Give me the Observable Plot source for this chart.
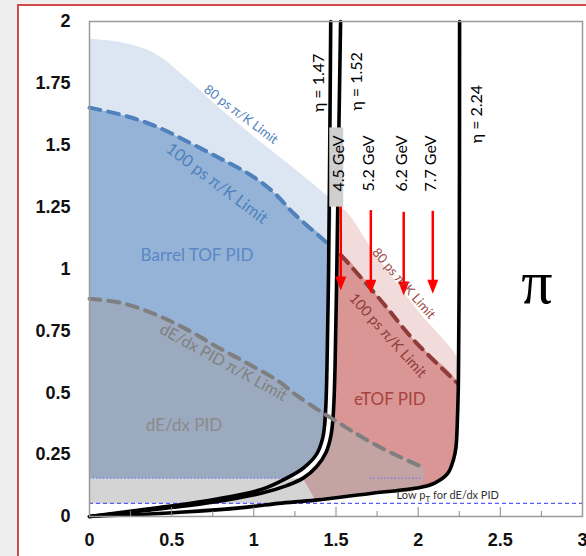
<!DOCTYPE html>
<html><head><meta charset="utf-8">
<script src="https://cdn.jsdelivr.net/npm/d3@7"></script>
<script src="https://cdn.jsdelivr.net/npm/@observablehq/plot@0.6"></script>
<style>
body{margin:0;background:#eeeeee;width:586px;height:556px;overflow:hidden;position:relative;}
#panel{position:absolute;left:17px;top:4px;width:700px;height:700px;background:#fff;border-left:2px solid #d24b4b;border-top:2px solid #d24b4b;}
#chart{position:absolute;left:0;top:0;}
</style></head><body>
<div id="panel"></div><div id="chart"></div>
<script>
// ---- axis ticks ----
const xTicks = [0, 0.5, 1, 1.5, 2, 2.5, 3];
const yTicks = [0, 0.25, 0.5, 0.75, 1, 1.25, 1.5, 1.75, 2];
const xMajorTicks = [0.5, 1, 1.5, 2, 2.5];
const xMinorTicks = [0.25, 0.75, 1.25, 1.75, 2.25, 2.75];

// ---- acceptance boundaries (x, y) ----
const etaValues = [1.47, 1.52, 2.24];
const etaNames = ["η = 1.47", "η = 1.52", "η = 2.24"];
const eta147 = [[0,0],[0.35,0.03],[0.75,0.068],[1.05,0.11],[1.2,0.155],[1.3,0.195],[1.38,0.25],[1.42,0.32],[1.436,0.42],[1.445,0.6],[1.455,1.0],[1.462,1.5],[1.468,2.0]];
const eta152 = [[0,0],[0.35,0.025],[0.75,0.058],[1.05,0.095],[1.2,0.125],[1.3,0.155],[1.38,0.2],[1.44,0.26],[1.47,0.33],[1.484,0.42],[1.494,0.6],[1.505,1.0],[1.516,1.5],[1.528,2.0]];
const eta224 = [[0,0],[0.55,0.017],[0.96,0.038],[1.15,0.053],[1.375,0.066],[1.71,0.093],[2.01,0.117],[2.1,0.135],[2.18,0.174],[2.215,0.23],[2.23,0.28],[2.24,0.417],[2.245,0.55],[2.25,1.0],[2.252,2.0]];

// ---- PID limits ----
const tof80Barrel = [[0,1.93],[0.2,1.915],[0.4,1.87],[0.6,1.765],[0.8,1.645],[1.0,1.535],[1.2,1.43],[1.42,1.31],[1.465,1.28]];
const tof100Barrel = [[0,1.652],[0.21,1.62],[0.41,1.575],[0.61,1.51],[0.8,1.445],[0.98,1.38],[1.12,1.31],[1.25,1.22],[1.447,1.105]];
const dEdxLimit = [[0,0.88],[0.2,0.862],[0.41,0.814],[0.6,0.753],[0.78,0.684],[0.96,0.619],[1.14,0.551],[1.27,0.485],[1.44,0.41],[1.49,0.39],[1.59,0.348],[1.77,0.279],[2.03,0.198]];
const tof80Endcap = [[1.529,1.245],[1.75,1.05],[2.0,0.83],[2.245,0.63]];
const tof100Endcap = [[1.529,1.057],[1.772,0.874],[1.973,0.713],[2.24,0.538]];
const lowPtCut = [0.053, 0.155];

// ---- momentum arrows ----
const momentaGeV = [4.5, 5.2, 6.2, 7.7];
const arrowX = [1.529, 1.712, 1.912, 2.089];
const arrowTop = [1.25, 1.236, 1.229, 1.233];
const arrowTip = [0.913, 0.9, 0.893, 0.9];

// ---- region names ----
const regionNames = ["Barrel TOF PID", "dE/dx PID", "eTOF PID"];
const limitNames = ["80 ps π/K Limit", "100 ps π/K Limit", "dE/dx PID π/K Limit"];

// ---- build polygons from the boundaries ----
const [yLow, yBand] = lowPtCut;
const between = (c, lo, hi) => c.filter(([, y]) => y >= lo && y < hi);
const X = d => d[0], Y = d => d[1];
const last = a => a[a.length - 1];

const polyLightBlue = [...tof80Barrel, ...between(eta147, yBand, last(tof80Barrel)[1]).reverse(), [0, yBand]];
const polyBlue = [...tof100Barrel, ...between(eta147, yBand, last(tof100Barrel)[1]).reverse(), [0, yBand]];
const dEdxLeft = dEdxLimit.filter(([x]) => x <= 1.44);
const polyDEdx = [...dEdxLeft, ...between(eta147, yBand, last(dEdxLeft)[1]).reverse(), [0, yBand]];
const polyBand = [[0, yLow], [0, yBand], ...eta152.filter(([, y]) => y === yBand), ...eta224.filter(([x]) => x >= 1.15 && x <= 1.375).reverse()];
const right224 = (yMax) => eta224.filter(([x, y]) => x >= 1.375 && y < yMax).reverse();
const polyPink = [...between(eta152, yBand, tof80Endcap[0][1]), ...tof80Endcap, ...right224(last(tof80Endcap)[1])];
const polyRed = [...between(eta152, yBand, tof100Endcap[0][1]), ...tof100Endcap, ...right224(last(tof100Endcap)[1])];
const dEdxRight = dEdxLimit.filter(([x]) => x >= 1.49);
const polyMauve = [...between(eta152, yBand, dEdxRight[0][1]), ...dEdxRight, ...eta224.filter(([x]) => x >= 1.375 && x <= last(dEdxRight)[0]).reverse()];

const fillPoly = (data, fill, c = "catmull-rom") => Plot.line(data, {x: X, y: Y, fill, stroke: "none", curve: c});
const curve = (data, o) => Plot.line(data, {x: X, y: Y, curve: "catmull-rom", ...o});

const triDown = {draw(ctx) { ctx.moveTo(0, 0); ctx.lineTo(-5.5, -14); ctx.lineTo(5.5, -14); ctx.closePath(); }};
const lab = "Lato, 'Open Sans', sans-serif";

const chart = Plot.plot({
  width: 586, height: 556,
  marginLeft: 89, marginRight: 4, marginTop: 21, marginBottom: 40,
  x: {domain: [0, 3]},
  y: {domain: [0, 2]},
  style: {background: "transparent", overflow: "visible", fontFamily: lab},
  marks: [
    fillPoly(polyLightBlue, "#dce6f2"),
    fillPoly(polyBlue, "#95b3d7"),
    fillPoly(polyDEdx, "#9baabe"),
    fillPoly(polyBand, "#d4d4d4", "linear"),
    fillPoly(polyPink, "#f2dcdb"),
    fillPoly(polyRed, "#da9694"),
    fillPoly(polyMauve, "#c4a3a3"),
    curve(tof100Barrel, {stroke: "#4f81bd", strokeWidth: 4, strokeDasharray: "11,8"}),
    curve(tof100Endcap, {stroke: "#8e3b3a", strokeWidth: 4, strokeDasharray: "11,8"}),
    Plot.ruleY([yBand], {x1: 0, x2: 1.2, stroke: "#6a6aff", strokeWidth: 1, strokeDasharray: "1.5,2"}),
    Plot.ruleY([yBand], {x1: 1.71, x2: 2.03, stroke: "#6a6aff", strokeWidth: 1, strokeDasharray: "1.5,2"}),
    Plot.ruleY([yLow], {stroke: "#5a5aff", strokeWidth: 1.2, strokeDasharray: "4,3"}),
    curve(eta224, {stroke: "#000", strokeWidth: 3.6}),
    curve(eta147, {stroke: "#000", strokeWidth: 3.6}),
    curve(eta152, {stroke: "#000", strokeWidth: 3.6}),
    curve(dEdxLimit, {stroke: "#7f7f7f", strokeWidth: 4, strokeDasharray: "11,8"}),
    // gray box behind first momentum label
    Plot.rect([arrowX[0]], {x1: d => d - 0.067, x2: d => d + 0.018, y1: 1.25, y2: 1.57, fill: "#cfcfcf"}),
    // eta labels
    Plot.text(etaNames, {x: (d, i) => etaValues[i] + [-0.075, 0.11, 0.12][i], y: (d, i) => [1.752, 1.758, 1.626][i], text: d => d, rotate: -90, fontSize: 16, fill: "#000"}),
    // momentum labels
    Plot.text(momentaGeV, {x: (d, i) => arrowX[i] - 0.012, y: 1.426, text: d => `${d} GeV`, rotate: -90, fontSize: 16, fill: "#000"}),
    // arrows
    Plot.ruleX(arrowX, {x: d => d, y1: (d, i) => arrowTop[i], y2: (d, i) => arrowTip[i] + 0.03, stroke: "#ff0000", strokeWidth: 2.5}),
    Plot.dot(arrowX, {x: d => d, y: (d, i) => arrowTip[i], symbol: triDown, fill: "#ff0000", stroke: "none", r: 5}),
    // region labels
    Plot.text([limitNames[0]], {x: 0.921, y: 1.624, rotate: 37, fontSize: 13, fill: "#4f81bd"}),
    Plot.text([limitNames[1]], {x: 0.775, y: 1.345, rotate: 37, fontSize: 16.5, fill: "#4f81bd"}),
    Plot.text([regionNames[0]], {x: 0.654, y: 1.055, fontSize: 17, fill: "#5a87c5"}),
    Plot.text([limitNames[2]], {x: 0.815, y: 0.622, rotate: 29, fontSize: 16, fill: "#808080"}),
    Plot.text([regionNames[1]], {x: 0.575, y: 0.368, fontSize: 17, fill: "#8a8a8a"}),
    Plot.text([regionNames[2]], {x: 1.828, y: 0.473, fontSize: 17, fill: "#a8423f"}),
    Plot.text([limitNames[0]], {x: 1.912, y: 0.941, rotate: 49, fontSize: 13, fill: "#a04a48"}),
    Plot.text([limitNames[1]], {x: 1.815, y: 0.731, rotate: 48, fontSize: 14.5, fill: "#8e3b3a"}),
    Plot.text(["π"], {x: 2.722, y: 0.941, fontSize: 62, fontFamily: "'Liberation Serif', 'DejaVu Serif', serif", fill: "#000"}),
    Plot.text(["Low pT for dE/dx PID"], {x: 2.18, y: 0.085, fontSize: 11, fill: "#333"}),
    // frame and axes
    Plot.frame({stroke: "#9a9a9a", strokeWidth: 1.5}),
    Plot.axisX(xMajorTicks, {tickSize: 9, dy: -9, tickFormat: () => "", stroke: "#888", label: null}),
    Plot.axisX(xMinorTicks, {tickSize: 5, dy: -5, tickFormat: () => "", stroke: "#888", label: null}),
    Plot.axisX(xTicks, {tickSize: 0, tickPadding: 17, tickFormat: d => String(d), fontSize: 18, fontWeight: "bold", fontFamily: "'Liberation Sans', Arial, sans-serif", fill: "#111", label: null}),
    Plot.axisY(yTicks, {tickSize: 0, tickPadding: 19, tickFormat: d => String(d), fontSize: 18, fontWeight: "bold", fontFamily: "'Liberation Sans', Arial, sans-serif", fill: "#111", label: null})
  ]
});

// subscript T in "Low pT"
d3.select(chart).selectAll("text").filter(function() { return this.textContent === "Low pT for dE/dx PID"; })
  .each(function() {
    const t = d3.select(this);
    t.text(null);
    t.append("tspan").text("Low p");
    t.append("tspan").attr("font-size", "8px").attr("dy", "3").text("T");
    t.append("tspan").attr("dy", "-3").text(" for dE/dx PID");
  });

document.getElementById("chart").append(chart);
</script></body></html>
